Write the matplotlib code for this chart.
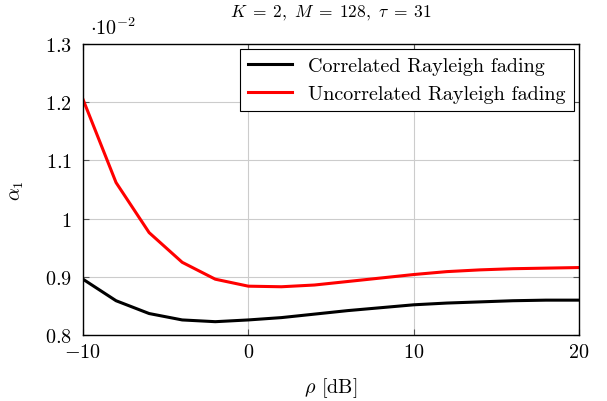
import matplotlib.pyplot as plt

plt.rcParams['font.family'] = 'serif'
plt.rcParams['font.serif'] = ['cmr10', 'DejaVu Serif']
plt.rcParams['mathtext.fontset'] = 'cm'
plt.rcParams['axes.unicode_minus'] = False

# rho in dB
rho = [-10, -8, -6, -4, -2, 0, 2, 4, 6, 8, 10, 12, 14, 16, 18, 20]

# alpha_1 (x 1e-2)
correlated = [0.896, 0.859, 0.837, 0.826, 0.823, 0.826, 0.830, 0.836, 0.842, 0.847,
              0.852, 0.855, 0.857, 0.859, 0.860, 0.860]
uncorrelated = [1.205, 1.062, 0.976, 0.925, 0.896, 0.884, 0.883, 0.886, 0.892, 0.898,
                0.904, 0.909, 0.912, 0.914, 0.915, 0.916]

xticks = [-10, 0, 10, 20]
xtick_labels = [r'$-10$', r'$0$', r'$10$', r'$20$']
yticks = [0.8, 0.9, 1.0, 1.1, 1.2, 1.3]
ytick_labels = [r'$0.8$', r'$0.9$', r'$1$', r'$1.1$', r'$1.2$', r'$1.3$']

fig = plt.figure(figsize=(6.07, 4.02), dpi=100)
ax = fig.add_axes([0.1367, 0.164, 0.8173, 0.724])

ax.plot(rho, correlated, color='black', lw=2.2, label='Correlated Rayleigh fading')
ax.plot(rho, uncorrelated, color='red', lw=2.2, label='Uncorrelated Rayleigh fading')

ax.set_xlim(-10, 20)
ax.set_ylim(0.8, 1.3)
ax.set_xticks(xticks)
ax.set_xticklabels(xtick_labels, fontsize=14.5)
ax.set_yticks(yticks)
ax.set_yticklabels(ytick_labels, fontsize=14.5)
ax.tick_params(direction='in', top=True, right=True, length=4, color='#555555')
ax.tick_params(axis='y', pad=8)
ax.tick_params(axis='x', pad=6)
ax.grid(True, color='#cccccc', lw=0.8)
for s in ax.spines.values():
    s.set_linewidth(1.0)

ax.set_xlabel(r'$\rho$ [dB]', fontsize=14.5, labelpad=10)
ax.set_ylabel(r'$\alpha_1$', fontsize=14.5, labelpad=14)
ax.set_title(r'$K\;=\;2,\ M\;=\;128,\ \tau\;=\;31$', fontsize=12.5, pad=20)
ax.text(0.015, 1.02, r'$\cdot 10^{-2}$', transform=ax.transAxes, fontsize=14.5,
        ha='left', va='bottom')

leg = ax.legend(loc='upper right', fontsize=14.5, fancybox=False, framealpha=1,
                edgecolor='black', borderaxespad=0.25, handlelength=2.2,
                labelspacing=0.5, borderpad=0.4)
leg.get_frame().set_linewidth(0.8)

fig.savefig('out.png', dpi=100)
